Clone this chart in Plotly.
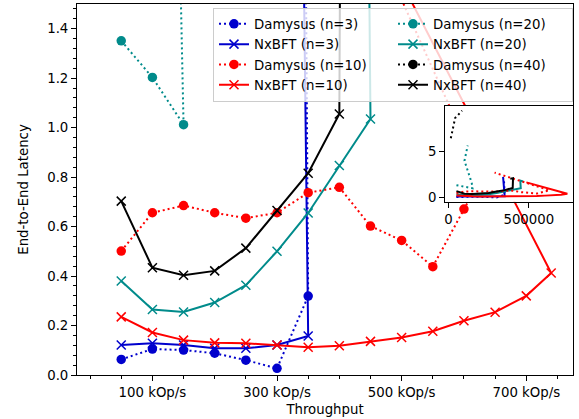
import plotly.graph_objects as go

FONT = "DejaVu Sans"
FS = 13.3

BLUE = "#0000cd"
RED = "#ff0000"
TEAL = "#008b8b"
BLACK = "#000000"

# ---------------- data (throughput in Op/s, latency in s) ----------------
damysus3_x = [50000, 100000, 150000, 200000, 250000, 300000, 350000, 345000]
damysus3_y = [0.063, 0.105, 0.101, 0.088, 0.060, 0.027, 0.319, 2.10]

nxbft3_x = [50000, 100000, 150000, 200000, 250000, 300000, 350000, 340000]
nxbft3_y = [0.121, 0.128, 0.121, 0.108, 0.108, 0.121, 0.158, 2.25]

damysus10_x = [50000, 100000, 150000, 200000, 250000, 300000, 350000, 400000,
               450000, 500000, 550000, 600000, 628000, 287000]
damysus10_y = [0.501, 0.656, 0.685, 0.656, 0.634, 0.656, 0.737, 0.759,
               0.602, 0.544, 0.438, 0.671, 0.80, 2.71]

nxbft10_x = [50000, 100000, 150000, 200000, 250000, 300000, 350000, 400000,
             450000, 500000, 550000, 600000, 650000, 700000, 740000, 485000]
nxbft10_y = [0.235, 0.172, 0.141, 0.130, 0.128, 0.121, 0.112, 0.118,
             0.136, 0.152, 0.177, 0.219, 0.254, 0.320, 0.4125, 1.66]

damysus20_x = [50000, 100000, 150000, 145000, 128000, 100000, 120000]
damysus20_y = [1.351, 1.203, 1.012, 1.6, 2.5, 4.0, 5.65]

nxbft20_x = [50000, 100000, 150000, 200000, 250000, 300000, 350000, 400000,
             450000, 447000, 465000]
nxbft20_y = [0.380, 0.265, 0.255, 0.293, 0.363, 0.500, 0.655, 0.847,
             1.035, 1.85, 1.75]

damysus40_x = [15000, 30000, 42000, 60000, 85000]
damysus40_y = [6.45, 7.6, 8.65, 8.95, 9.45]

nxbft40_x = [50000, 100000, 150000, 200000, 250000, 300000, 350000, 400000,
             402000, 385000]
nxbft40_y = [0.703, 0.434, 0.403, 0.421, 0.513, 0.665, 0.816, 1.055,
             2.10, 2.05]

x_tick_vals = [100000, 300000, 500000, 700000]
x_tick_labels = ["100 kOp/s", "300 kOp/s", "500 kOp/s", "700 kOp/s"]
y_tick_vals = [0.0, 0.2, 0.4, 0.6, 0.8, 1.0, 1.2, 1.4]

inset_x_ticks = [0, 500000]
inset_y_ticks = [0, 5]

main_x_range = [-21000, 775000]
main_y_range = [0, 1.5]
inset_y_range = [-0.445, 9.94]

# legend order (row-major, 2 columns)
series = [
    ("Damysus (n=3)", damysus3_x, damysus3_y, BLUE, "d"),
    ("Damysus (n=20)", damysus20_x, damysus20_y, TEAL, "d"),
    ("NxBFT (n=3)", nxbft3_x, nxbft3_y, BLUE, "n"),
    ("NxBFT (n=20)", nxbft20_x, nxbft20_y, TEAL, "n"),
    ("Damysus (n=10)", damysus10_x, damysus10_y, RED, "d"),
    ("Damysus (n=40)", damysus40_x, damysus40_y, BLACK, "d"),
    ("NxBFT (n=10)", nxbft10_x, nxbft10_y, RED, "n"),
    ("NxBFT (n=40)", nxbft40_x, nxbft40_y, BLACK, "n"),
]

DOT = "2px,3px"

fig = go.Figure()

for name, xs, ys, col, kind in series:
    if kind == "d":
        marker = dict(symbol="circle", size=9.5, color=col, line=dict(width=0))
        line = dict(color=col, width=2, dash=DOT)
    else:
        marker = dict(symbol="x-thin", size=9, color=col, line=dict(width=1.5, color=col))
        line = dict(color=col, width=2)
    fig.add_trace(go.Scatter(x=xs, y=ys, mode="lines+markers", name=name,
                             line=line, marker=marker, xaxis="x", yaxis="y"))

# inset (lines only)
for name, xs, ys, col, kind in series:
    line = dict(color=col, width=2, dash=DOT if kind == "d" else "solid")
    fig.add_trace(go.Scatter(x=xs, y=ys, mode="lines", name=name, showlegend=False,
                             line=line, xaxis="x2", yaxis="y2"))

# white background for inset
fig.add_shape(type="rect", xref="x2", yref="y2",
              x0=main_x_range[0], x1=main_x_range[1],
              y0=inset_y_range[0], y1=inset_y_range[1],
              fillcolor="white", line=dict(width=0), layer="below")

axis_common = dict(showline=True, linecolor="black", linewidth=1, mirror=True,
                   showgrid=False, zeroline=False, ticks="outside", ticklen=5,
                   tickwidth=1, tickcolor="black", automargin=False,
                   tickfont=dict(family=FONT, size=FS, color="black"))

fig.update_layout(
    width=579, height=419,
    margin=dict(l=77, r=6, t=4, b=44, pad=0),
    paper_bgcolor="white", plot_bgcolor="white",
    font=dict(family=FONT, size=FS, color="black"),
    showlegend=True,
    legend=dict(orientation="h", x=1.0, xanchor="right", y=0.99, yanchor="top",
                bgcolor="rgba(255,255,255,0.8)", bordercolor="#cccccc", borderwidth=1,
                entrywidth=134, entrywidthmode="pixels",
                font=dict(family=FONT, size=FS, color="black"), tracegroupgap=0),
    xaxis=dict(domain=[0, 1], range=main_x_range, tickvals=x_tick_vals,
               ticktext=x_tick_labels,
               minor=dict(dtick=50000, tick0=0, ticks="outside", ticklen=3,
                          tickwidth=1, tickcolor="black", showgrid=False),
               title=dict(text="Throughput", standoff=5,
                          font=dict(family=FONT, size=FS)),
               **axis_common),
    yaxis=dict(domain=[0, 1], range=main_y_range, tickvals=y_tick_vals,
               tickformat=".1f", ticksuffix=" s",
               minor=dict(dtick=0.04, tick0=0, ticks="outside", ticklen=3,
                          tickwidth=1, tickcolor="black", showgrid=False),
               title=dict(text="End-to-End Latency", standoff=15,
                          font=dict(family=FONT, size=FS)),
               **axis_common),
    xaxis2=dict(domain=[0.742, 1.0], anchor="y2", range=main_x_range,
                tickvals=inset_x_ticks, tickformat="d", **axis_common),
    yaxis2=dict(domain=[0.467, 0.725], anchor="x2", range=inset_y_range,
                tickvals=inset_y_ticks, tickformat="d", **axis_common),
)

fig.write_html("out.html", config={"displayModeBar": False},
               post_script="document.body.style.margin='0';document.body.style.overflow='hidden';")
